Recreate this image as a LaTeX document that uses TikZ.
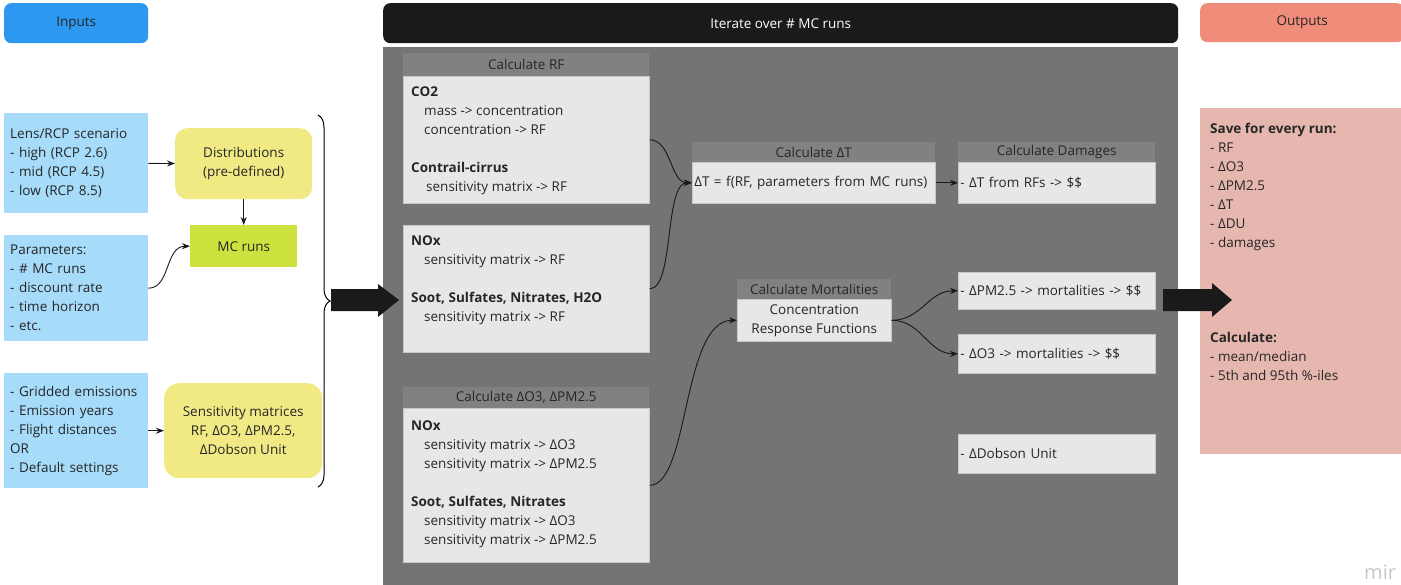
\documentclass[tikz,border=0pt]{standalone}
\usepackage{fontspec}
\setmainfont{Open Sans}
\usetikzlibrary{positioning,arrows.meta,decorations.pathreplacing}

\definecolor{inputblue}{RGB}{45,152,240}
\definecolor{lightblue}{RGB}{166,219,250}
\definecolor{softyellow}{RGB}{241,233,132}
\definecolor{limegreen}{RGB}{205,226,62}
\definecolor{panelgray}{RGB}{116,116,116}
\definecolor{headgray}{RGB}{129,129,129}
\definecolor{boxgray}{RGB}{231,231,231}
\definecolor{outsalmon}{RGB}{240,140,122}
\definecolor{outpink}{RGB}{230,183,174}
\definecolor{textdark}{RGB}{38,38,38}
\definecolor{nearblack}{RGB}{26,26,26}

\newcommand{\ind}{\hspace*{13pt}}

\begin{document}
\begin{tikzpicture}[x=1pt, y=-1pt,
  every node/.style={inner sep=0pt, text=textdark, font=\fontsize{13.5}{19}\selectfont},
  header/.style={anchor=north west, rounded corners=7pt, minimum height=40pt, align=center},
  inbox/.style={anchor=north west, fill=lightblue, text width=132pt, inner xsep=6pt, align=left},
  calchead/.style={anchor=north west, fill=headgray, align=center},
  calcbox/.style={anchor=north west, fill=boxgray, draw=black!22, line width=0.6pt, align=left},
  content/.style={anchor=north west, align=left},
  conn/.style={-{Stealth[length=8pt, width=6pt]}, line width=0.9pt, black!90}]
  \path[use as bounding box, clip] (0,0) rectangle (1401,584);

  % Column headers
  \node[header, fill=inputblue, minimum width=144pt] (inhead) at (4,3) {Inputs};
  \node[header, fill=nearblack, minimum width=795pt, text=white] (runhead) at (383,3) {Iterate over \# MC runs};
  \node[header, fill=outsalmon, minimum width=204pt, minimum height=39pt] (outhead) at (1200,3) {Outputs};

  % Inputs
  \node[inbox, minimum height=100pt] (lens) at (4,113) {Lens/RCP scenario\\- high (RCP 2.6)\\- mid (RCP 4.5)\\- low (RCP 8.5)};
  \node[inbox, minimum height=106pt] (param) at (4,235) {Parameters:\\- \# MC runs\\- discount rate\\- time horizon\\- etc.};
  \node[inbox, minimum height=115pt] (grid) at (4,373) {- Gridded emissions\\- Emission years\\- Flight distances\\OR\\- Default settings};
  \node[anchor=north west, fill=softyellow, rounded corners=12pt, minimum width=137pt, minimum height=71pt, align=center] (dist) at (175,128) {Distributions\\(pre-defined)};
  \node[anchor=north west, fill=limegreen, minimum width=107pt, minimum height=42pt] (mc) at (190,225) {MC runs};
  \node[anchor=north west, fill=softyellow, rounded corners=15pt, minimum width=158pt, minimum height=95pt, align=center] (sens) at (164,383) {Sensitivity matrices\\RF, ΔO3, ΔPM2.5,\\ΔDobson Unit};

  \draw[conn] (lens) -- (dist);
  \draw[conn] (dist) -- (mc);
  \draw[conn] (param.east) .. controls +(22,0) and +(-25,0) .. (mc.west);
  \draw[conn] (grid) -- (sens);
  \draw[line width=1pt, decorate, decoration={brace, amplitude=12pt}] (318,115) -- (318,487);

  % Iteration panel
  \node[anchor=north west, fill=panelgray, minimum width=795pt, minimum height=540pt] (panel) at (383,47) {};

  \node[calchead, minimum width=246pt, minimum height=23pt] (rfhead) at (403,53) {Calculate RF};
  \node[calcbox, minimum width=246pt, minimum height=127pt] (rfa) at (403,76) {};
  \node[content] (rfatext) at ([shift={(8,11)}]rfa.north west)
    {\textbf{CO2}\\\ind mass -> concentration\\\ind concentration -> RF\\[19pt]
     \textbf{Contrail-cirrus}\\\ind\hspace*{2pt}sensitivity matrix -> RF};
  \node[calcbox, minimum width=246pt, minimum height=127pt] (rfb) at (403,225) {};
  \node[content] (rfbtext) at ([shift={(8,11)}]rfb.north west)
    {\textbf{NOx}\\\ind sensitivity matrix -> RF\\[19pt]
     \textbf{Soot, Sulfates, Nitrates, H2O}\\\ind sensitivity matrix -> RF};

  \node[calchead, minimum width=246pt, minimum height=21pt] (dohead) at (403,387) {Calculate ΔO3, ΔPM2.5};
  \node[calcbox, minimum width=246pt, minimum height=154pt] (dox) at (403,408) {};
  \node[content] (doxtext) at ([shift={(8,13)}]dox.north west)
    {\textbf{NOx}\\\ind sensitivity matrix -> ΔO3\\\ind sensitivity matrix -> ΔPM2.5\\[19pt]
     \textbf{Soot, Sulfates, Nitrates}\\\ind sensitivity matrix -> ΔO3\\\ind sensitivity matrix -> ΔPM2.5};

  \node[calchead, minimum width=243pt, minimum height=20pt] (dthead) at (692,142) {Calculate ΔT};
  \node[calcbox, text width=239pt, inner xsep=2pt, minimum height=41pt] (dtbox) at (692,162) {ΔT = f(RF, parameters from MC runs)};
  \node[calchead, minimum width=197pt, minimum height=20pt] (dmghead) at (958,142) {Calculate Damages};
  \node[calcbox, text width=193pt, inner xsep=2pt, minimum height=41pt] (dmgbox) at (958,162) {- ΔT from RFs -> \$\$};

  \node[calchead, minimum width=154pt, minimum height=20pt] (morthead) at (737,279) {Calculate Mortalities};
  \node[calcbox, minimum width=154pt, minimum height=42pt, align=center] (mortbox) at (737,299) {Concentration\\Response Functions};
  \node[calcbox, text width=193pt, inner xsep=2pt, minimum height=37pt] (pmbox) at (958,272) {- ΔPM2.5 -> mortalities -> \$\$};
  \node[calcbox, text width=193pt, inner xsep=2pt, minimum height=39pt] (o3box) at (958,334) {- ΔO3 -> mortalities -> \$\$};
  \node[calcbox, text width=193pt, inner xsep=2pt, minimum height=39pt] (dobbox) at (958,434) {- ΔDobson Unit};

  \draw[conn] (rfa.east) .. controls +(22,0) and +(-22,0) .. (dtbox.west);
  \draw[conn] (rfb.east) .. controls +(25,0) and +(-28,0) .. (dtbox.west);
  \draw[conn] (dtbox) -- (dmgbox);
  \draw[conn] (dox.east) .. controls +(40,0) and +(-55,0) .. (mortbox.west);
  \draw[conn] (mortbox.east) .. controls +(30,0) and +(-30,0) .. (pmbox.west);
  \draw[conn] (mortbox.east) .. controls +(30,0) and +(-30,0) .. (o3box.west);

  % Outputs
  \node[anchor=north west, fill=outpink, minimum width=210pt, minimum height=346pt] (outbox) at (1200,108) {};
  \node[content] (outtext) at ([shift={(10,15)}]outbox.north west)
    {\textbf{Save for every run:}\\- RF\\- ΔO3\\- ΔPM2.5\\- ΔT\\- ΔDU\\- damages\\[76pt]
     \textbf{Calculate:}\\- mean/median\\- 5th and 95th \%-iles};

  % Big arrows
  \fill[nearblack] (331,289) -- (378,289) -- (378,284) -- (399,300) -- (378,317) -- (378,311) -- (331,311) -- cycle;
  \fill[nearblack] (1163,289) -- (1212,289) -- (1212,283) -- (1232,300) -- (1212,317) -- (1212,311) -- (1163,311) -- cycle;

  \node[anchor=west, text=black!22, font=\fontsize{20}{20}\selectfont] (logo) at (1364,572) {mir};
\end{tikzpicture}
\end{document}
